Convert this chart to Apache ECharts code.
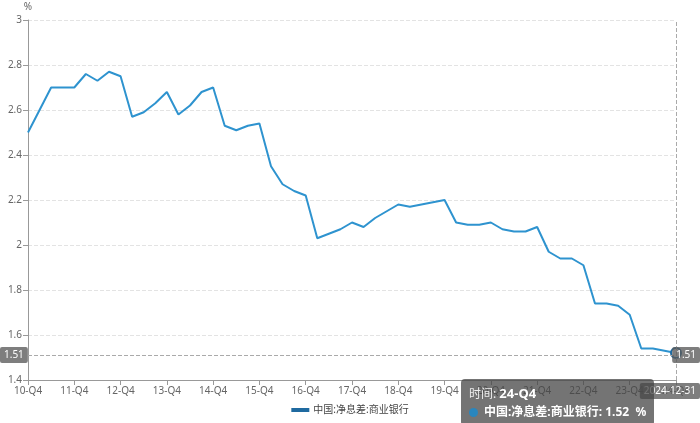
<!DOCTYPE html>
<html>
<head>
<meta charset="utf-8">
<script src="https://cdn.jsdelivr.net/npm/echarts@6/dist/echarts.min.js"></script>
<style>html,body{margin:0;padding:0;background:#fff}#c{width:700px;height:423px}</style>
</head>
<body>
<div id="c"></div>
<script>
var quarters = [
  '10-Q4',
  '11-Q1','11-Q2','11-Q3','11-Q4',
  '12-Q1','12-Q2','12-Q3','12-Q4',
  '13-Q1','13-Q2','13-Q3','13-Q4',
  '14-Q1','14-Q2','14-Q3','14-Q4',
  '15-Q1','15-Q2','15-Q3','15-Q4',
  '16-Q1','16-Q2','16-Q3','16-Q4',
  '17-Q1','17-Q2','17-Q3','17-Q4',
  '18-Q1','18-Q2','18-Q3','18-Q4',
  '19-Q1','19-Q2','19-Q3','19-Q4',
  '20-Q1','20-Q2','20-Q3','20-Q4',
  '21-Q1','21-Q2','21-Q3','21-Q4',
  '22-Q1','22-Q2','22-Q3','22-Q4',
  '23-Q1','23-Q2','23-Q3','23-Q4',
  '24-Q1','24-Q2','24-Q3','24-Q4'
];
var nim = [
  2.50,
  2.60, 2.70, 2.70, 2.70,
  2.76, 2.73, 2.77, 2.75,
  2.57, 2.59, 2.63, 2.68,
  2.58, 2.62, 2.68, 2.70,
  2.53, 2.51, 2.53, 2.54,
  2.35, 2.27, 2.24, 2.22,
  2.03, 2.05, 2.07, 2.10,
  2.08, 2.12, 2.15, 2.18,
  2.17, 2.18, 2.19, 2.20,
  2.10, 2.09, 2.09, 2.10,
  2.07, 2.06, 2.06, 2.08,
  1.97, 1.94, 1.94, 1.91,
  1.74, 1.74, 1.73, 1.69,
  1.54, 1.54, 1.53, 1.52
];
var seriesName = '中国:净息差:商业银行';
var unit = '%';
var yMin = 1.4, yMax = 3, yStep = 0.2;

var qEnd = {Q1:'03-31', Q2:'06-30', Q3:'09-30', Q4:'12-31'};
function toDate(q){ var p = q.split('-'); return '20' + p[0] + '-' + qEnd[p[1]]; }

var LINE = '#2a86bd';
var FONT = '"Noto Sans", "Noto Sans CJK SC", sans-serif';
var chart = echarts.init(document.getElementById('c'), null, {renderer:'canvas'});
var pointerLabel = {backgroundColor:'rgba(90,90,90,0.78)', color:'#fff', fontSize:10, fontFamily:FONT, padding:[3,4], borderRadius:2};
chart.setOption({
  animation:false,
  textStyle:{fontFamily:FONT},
  grid:{left:28, right:24, top:20, bottom:43, containLabel:false},
  legend:{
    bottom:3, left:'center', icon:'rect', itemWidth:16, itemHeight:2, itemGap:8,
    textStyle:{color:'#444', fontSize:10, fontFamily:FONT},
    itemStyle:{color:'#1f6aa0'},
    data:[seriesName]
  },
  tooltip:{
    trigger:'axis',
    alwaysShowContent:true,
    axisPointer:{type:'cross', lineStyle:{color:'#aaa', type:'dashed'}, crossStyle:{color:'#aaa', type:'dashed'}, label:pointerLabel},
    backgroundColor:'rgba(70,70,70,0.75)',
    borderWidth:0,
    borderRadius:4,
    padding:[5,8],
    extraCssText:'box-shadow:none;line-height:18px;',
    textStyle:{color:'#fff', fontSize:12, fontFamily:FONT},
    position:function(){ return [461, 379]; },
    formatter:function(params){
      var p = params[0];
      return '<span style="color:#eee;font-size:12px">时间:</span> <b style="font-size:13px">' + p.axisValue + '</b><br/>' +
        '<span style="display:inline-block;width:9px;height:9px;border-radius:5px;background:' + LINE + ';margin-right:6px;vertical-align:middle"></span>' +
        '<b style="font-size:12px">' + p.seriesName + ': ' + p.value.toFixed(2) + '&nbsp;&nbsp;' + unit + '</b>';
    }
  },
  xAxis:{
    type:'category',
    data:quarters,
    boundaryGap:false,
    axisLine:{lineStyle:{color:'#999'}},
    axisTick:{interval:3, length:5, lineStyle:{color:'#999'}},
    axisLabel:{interval:3, color:'#666', fontSize:10, margin:6},
    axisPointer:{label:{formatter:function(o){ return toDate(o.value); }}},
    splitLine:{show:false}
  },
  yAxis:[{
    type:'value',
    min:yMin, max:yMax, interval:yStep,
    name:unit,
    nameGap:8,
    nameTextStyle:{color:'#666', fontSize:10, align:'center'},
    axisLine:{show:true, lineStyle:{color:'#999'}},
    axisTick:{show:true, length:5, lineStyle:{color:'#999'}},
    axisLabel:{color:'#666', fontSize:10, margin:6, formatter:function(v){ return String(+v.toFixed(1)); }},
    splitLine:{lineStyle:{color:'#e3e3e3', type:'dashed'}},
    axisPointer:{label:{formatter:function(o){ return o.value.toFixed(2); }}}
  },{
    type:'value',
    min:yMin, max:yMax, interval:yStep,
    position:'right',
    axisLine:{show:false}, axisTick:{show:false}, axisLabel:{show:false}, splitLine:{show:false},
    axisPointer:{show:true, type:'line', lineStyle:{color:'#aaa', type:'dashed'}, label:Object.assign({}, pointerLabel, {formatter:function(o){ return o.value.toFixed(2); }})}
  }],
  series:[{
    name:seriesName,
    type:'line',
    data:nim,
    showSymbol:false,
    symbol:'circle',
    symbolSize:10,
    lineStyle:{color:LINE, width:2},
    itemStyle:{color:'#fff', borderColor:'#1f6aa0', borderWidth:2},
    emphasis:{scale:false, itemStyle:{color:'#fff', borderColor:'#1f6aa0', borderWidth:2}}
  }]
});
setTimeout(function(){
  chart.dispatchAction({type:'showTip', x:675, y:355});
  chart.dispatchAction({type:'highlight', seriesIndex:0, dataIndex:quarters.length - 1});
}, 50);
</script>
</body>
</html>
